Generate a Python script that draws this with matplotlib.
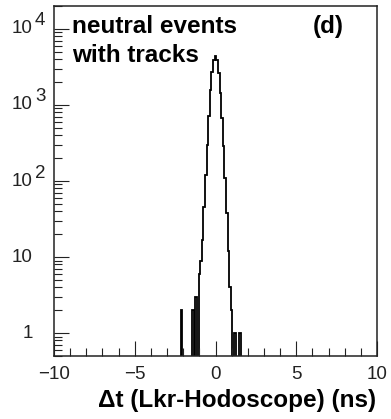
import matplotlib

matplotlib.use("Agg")

import matplotlib.pyplot as plt
import matplotlib.ticker as mticker
import matplotlib.transforms as mtransforms
import numpy as np

plt.rcParams["font.family"] = ["Liberation Sans", "DejaVu Sans"]

# histogram of the time difference, 0.1 ns bins centred on -2.2 ... 1.5 ns
bin_centers = [
    -2.2, -2.1, -2.0, -1.9, -1.8, -1.7, -1.6, -1.5, -1.4, -1.3, -1.2, -1.1,
    -1.0, -0.9, -0.8, -0.7, -0.6, -0.5, -0.4, -0.3, -0.2, -0.1, 0.0,
    0.1, 0.2, 0.3, 0.4, 0.5, 0.6, 0.7, 0.8, 0.9, 1.0, 1.1, 1.2, 1.3, 1.4, 1.5,
]
counts = [
    0, 2, 0, 0, 0, 0, 0, 0, 2, 0, 3, 0,
    6, 9, 17, 45, 120, 300, 720, 1550, 2750, 3900, 4350,
    3850, 2650, 1450, 680, 290, 110, 38, 12, 4, 2, 0, 1, 0, 0, 1,
]
bin_width = 0.1

y_ticks = [1, 10, 100, 1000, 10000]
y_bases = ["1", "10", "10", "10", "10"]
y_exponents = ["", "", "2", "3", "4"]
x_ticks = [-10, -5, 0, 5, 10]

fig = plt.figure(figsize=(3.91, 4.19), dpi=100)
ax = fig.add_axes([54 / 391, 1 - 356 / 419, 323 / 391, 350 / 419])

centers = np.array(bin_centers)
edges = np.append(centers - bin_width / 2, centers[-1] + bin_width / 2)
vals = np.array(counts, dtype=float)
floor = 1e-2
vals = np.where(vals > 0, vals, floor)
ax.stairs(vals, edges, baseline=floor, color="black", linewidth=1.3)

ax.set_yscale("log")
ax.set_xlim(-10, 10)
ax.set_ylim(0.5, 2e4)

ax.set_xticks(x_ticks)
ax.xaxis.set_minor_locator(mticker.MultipleLocator(1))
ax.set_yticks(y_ticks)
ax.yaxis.set_minor_locator(mticker.LogLocator(base=10, subs=np.arange(2, 10), numticks=20))
ax.yaxis.set_minor_formatter(mticker.NullFormatter())
ax.set_yticklabels([])

ax.tick_params(which="both", direction="in", top=False, right=False, width=0.8, color="#222222")
ax.tick_params(which="major", length=10.5)
ax.tick_params(which="minor", length=5.8)
ax.tick_params(axis="x", labelsize=13.5, pad=7.5, labelcolor="#222222")
for side in ax.spines.values():
    side.set_linewidth(1.1)
    side.set_color("#222222")

# ROOT-like y labels: base and full-size raised exponent
trans = mtransforms.blended_transform_factory(fig.transFigure, ax.transData)
up = mtransforms.offset_copy(trans, fig=fig, y=8, units="dots")
for val, base, exp in zip(y_ticks, y_bases, y_exponents):
    if base == "1":
        ax.text(33 / 391, val, base, transform=trans, ha="right", va="center",
                fontsize=13.5, color="#222222")
        continue
    ax.text(12 / 391, val, base, transform=trans, ha="left", va="center",
            fontsize=13.5, color="#222222")
    if exp:
        ax.text(35 / 391, val, exp, transform=up, ha="left", va="center",
                fontsize=13.5, color="#222222")

fig.text(72 / 391, 1 - 33 / 419, "neutral events", fontsize=17.5, fontweight="bold",
         ha="left", va="baseline")
fig.text(72 / 391, 1 - 62 / 419, "with tracks", fontsize=17.5, fontweight="bold",
         ha="left", va="baseline")
fig.text(313 / 391, 1 - 33 / 419, "(d)", fontsize=17.5, fontweight="bold",
         ha="left", va="baseline")
fig.text(376 / 391, 1 - 400 / 419, "\u0394t (Lkr-Hodoscope) (ns)", fontsize=17.5,
         fontweight="bold", ha="right", va="center")

fig.savefig("out.png", dpi=100)
